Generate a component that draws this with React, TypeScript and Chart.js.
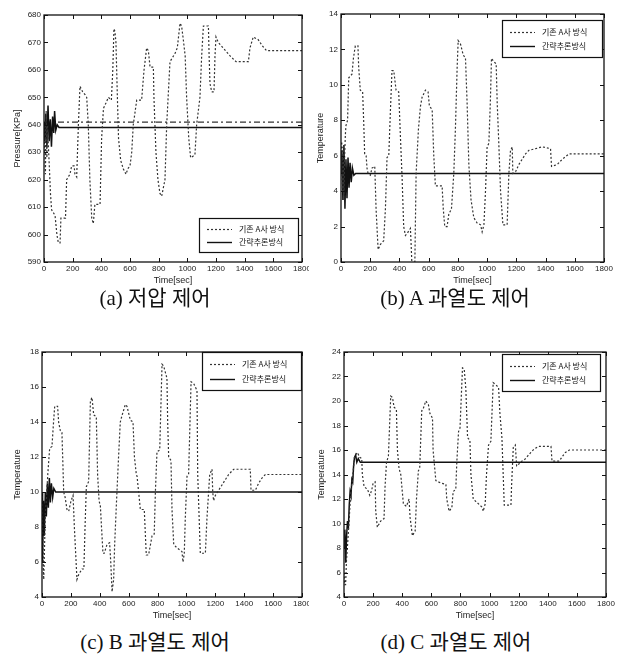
import React, { useEffect, useRef } from "react";
import { Chart, registerables } from "chart.js";
Chart.register(...registerables);

type Pt = [number, number];

const X_TICKS = [0, 200, 400, 600, 800, 1000, 1200, 1400, 1600, 1800];
const LEGEND_OLD = "기존 A사 방식";
const LEGEND_NEW = "간략추론방식";
const X_TITLE = "Time[sec]";

// (a) 저압 제어
const A_OLD: Pt[] = [[0,630],[5,640],[10,622],[15,645],[20,628],[25,640],[30,633],[37,625],[45,615],[53,609],[65,608],[77,607],[90,600],[100,597],[112,597],[118,606],[150,606],[158,620],[181,622],[193,625],[210,625],[216,622],[228,621],[240,640],[251,654],[270,652],[286,651],[298,650],[309,640],[320,620],[333,606],[344,604],[355,611],[391,611],[402,635],[415,646],[433,648],[449,650],[470,649],[480,660],[488,675],[495,674],[502,670],[512,650],[520,635],[535,627],[553,624],[572,622],[585,624],[600,625],[612,630],[623,640],[647,649],[681,649],[698,660],[716,668],[728,667],[740,661],[763,661],[767,650],[781,630],[795,620],[809,615],[821,614],[844,620],[856,640],[879,663],[914,666],[930,668],[949,677],[960,676],[972,671],[985,665],[995,650],[1010,635],[1023,628],[1053,629],[1065,640],[1088,650],[1100,665],[1112,676],[1147,676],[1152,665],[1158,655],[1170,652],[1186,652],[1193,665],[1200,672],[1216,670],[1250,668],[1300,665],[1340,663],[1426,663],[1437,668],[1460,672],[1495,671],[1520,669],[1553,667],[1800,667]];
const A_NEW: Pt[] = [[0,641],[6,634],[12,644],[20,632],[28,647],[36,634],[44,642],[52,632],[60,643],[68,637],[74,645],[82,638],[92,640],[105,639],[1800,639]];
const A_SET: Pt[] = [[0,641],[1800,641]];
const A_Y_TICKS = [590, 600, 610, 620, 630, 640, 650, 660, 670, 680];

// (b) A 과열도 제어
const B_OLD: Pt[] = [[0,5.5],[5,6.8],[10,4],[15,6.5],[20,3.5],[25,6],[30,7.2],[34,7.7],[45,8],[53,10.4],[75,10.6],[85,11.5],[98,12.2],[116,12.2],[121,11],[132,9.7],[148,9.6],[155,8],[162,6.1],[172,6],[178,5.3],[185,5],[201,4.9],[212,5.3],[231,5.4],[240,3],[254,0.7],[270,1],[292,1.2],[304,3],[315,5.9],[327,6],[338,8.5],[349,10.8],[361,10.8],[377,9.7],[395,9.6],[407,7],[418,4.8],[429,2],[441,1.5],[452,1.6],[475,1.9],[480,1],[486,-0.3],[505,-0.3],[514,5],[530,7.5],[544,8.8],[555,9.3],[578,9.7],[596,9.6],[605,8.8],[624,8.6],[635,6],[646,4.3],[692,4.3],[700,3],[710,2],[726,2],[738,2.7],[756,3],[772,5],[783,7.5],[795,11],[802,12.5],[818,12.3],[836,11.7],[852,11.5],[863,9],[875,5.5],[890,3.5],[909,2.5],[932,2.2],[955,2.1],[966,1.7],[978,2.1],[989,4],[1000,6.5],[1012,6.7],[1022,9],[1030,11.5],[1046,11.3],[1062,11.2],[1069,9],[1080,6.7],[1092,4],[1108,2.1],[1137,2.1],[1149,5],[1160,6.3],[1172,6.5],[1176,5],[1195,5.1],[1217,5.5],[1240,5.8],[1263,6.1],[1286,6.3],[1332,6.4],[1377,6.5],[1434,6.4],[1441,5.4],[1480,5.5],[1514,5.8],[1560,6.1],[1800,6.1]];
const B_NEW: Pt[] = [[0,5],[6,6.3],[13,3.5],[20,6.6],[27,3],[34,5.8],[41,3.6],[48,5.9],[55,4.2],[62,5.6],[70,4.5],[78,5.3],[88,4.9],[100,5],[1800,5]];
const B_Y_TICKS = [0, 2, 4, 6, 8, 10, 12, 14];

// (c) B 과열도 제어
const C_OLD: Pt[] = [[0,10],[8,6],[12,5],[18,7],[23,8.8],[30,9.5],[40,11],[53,12.5],[69,12.6],[80,14],[88,14.9],[108,14.9],[115,14],[127,13.5],[138,13.4],[145,11.5],[150,10],[160,9.7],[173,9],[185,8.9],[201,9.5],[215,9.8],[224,8],[242,5],[255,5.3],[277,5.6],[290,5.6],[298,8],[307,10.3],[323,10.6],[335,15.2],[346,15.4],[358,14.4],[376,14.3],[385,11],[395,9.5],[404,9.2],[422,6.5],[431,6.5],[450,7],[468,7.1],[476,6],[485,4.3],[496,5],[503,7],[515,9.3],[530,12],[542,14],[555,14.4],[577,15],[588,14.9],[612,14.1],[630,14],[640,12],[653,11],[658,10.9],[669,10],[681,9],[708,9],[722,6.4],[738,6.4],[762,7.5],[777,7.6],[785,10],[796,12.3],[815,12.4],[831,17.3],[842,17.2],[865,16.5],[870,14],[877,12],[893,11.8],[900,9],[912,7],[935,6.8],[969,6.6],[976,6],[985,6.5],[992,8.5],[1004,10.9],[1015,11],[1032,16.3],[1050,16.2],[1073,15.8],[1078,11],[1096,6.5],[1131,6.5],[1142,8.5],[1161,11],[1177,11.3],[1182,10],[1188,9.5],[1200,9.8],[1223,10.1],[1246,10.4],[1269,10.7],[1292,11],[1327,11.3],[1442,11.3],[1447,10.1],[1477,10.1],[1500,10.5],[1523,10.8],[1546,11],[1800,11]];
const C_NEW: Pt[] = [[0,10],[4,6],[10,9.5],[16,7.5],[23,10],[30,8.6],[37,10.5],[44,9.1],[51,10.8],[58,9.4],[65,10.5],[74,9.7],[82,10.2],[95,10],[1800,10]];
const C_Y_TICKS = [4, 6, 8, 10, 12, 14, 16, 18];

// (d) C 과열도 제어
const D_OLD: Pt[] = [[0,6],[5,5],[11,5],[17,7],[23,8],[34,10],[46,12.5],[57,13.5],[73,15.5],[92,15.8],[108,15.4],[122,15.3],[126,14],[138,13],[161,12.8],[177,12.3],[190,12.7],[200,13.3],[214,13.4],[218,11],[229,9.7],[252,10.2],[275,10.4],[282,13],[292,15],[305,15.5],[321,20.4],[333,20.3],[344,19.5],[360,19.3],[367,16],[378,14.5],[390,14],[408,11.6],[429,11.4],[447,12],[454,10.5],[470,9],[489,9.4],[498,12],[511,14.3],[520,14.5],[534,19.2],[545,19.4],[562,20],[580,19.7],[590,19],[608,18.6],[612,16],[631,13.5],[665,13.3],[700,13.2],[706,12],[722,11],[741,11.3],[750,12.6],[768,12.8],[775,15],[787,17.5],[797,17.8],[814,22.7],[826,22.6],[837,21],[849,17],[865,16.8],[872,14],[888,12],[906,11.8],[933,11.5],[952,11.3],[956,11],[970,11.6],[979,14],[993,16.4],[1009,16.7],[1025,21.5],[1045,21.3],[1062,21.1],[1071,19],[1085,17],[1101,11.5],[1147,11.5],[1151,13],[1163,16.2],[1177,16.4],[1186,14.7],[1193,14.7],[1209,15],[1239,15.2],[1261,15.5],[1284,15.8],[1307,16.1],[1342,16.3],[1422,16.3],[1429,15.1],[1479,15.1],[1502,15.5],[1521,15.8],[1548,16],[1800,16]];
const D_NEW: Pt[] = [[0,8],[6,9.5],[12,6.8],[18,9],[24,10.2],[30,9.6],[36,11.5],[42,12.6],[48,12.3],[54,13.6],[60,13.4],[66,14.7],[72,15.4],[80,15.6],[88,15],[98,15.3],[112,15],[1800,15]];
const D_Y_TICKS = [4, 6, 8, 10, 12, 14, 16, 18, 20, 22, 24];

type Area = { l: number; r: number; t: number; b: number };
type LegendSpec = { corner: "tr" | "br"; inX: number; inY: number; w: number; h: number };

interface PanelProps {
  left: number;
  top: number;
  w: number;
  h: number;
  area: Area;
  yTicks: number[];
  yTitle: string;
  yTitlePad: number;
  oldData: Pt[];
  newData: Pt[];
  setData?: Pt[];
  legend: LegendSpec;
}

const TICK_FONT = { family: "'Liberation Sans', Arial, sans-serif", size: 8 };

function Panel(p: PanelProps) {
  const ref = useRef<HTMLCanvasElement | null>(null);
  useEffect(() => {
    if (!ref.current) return;
    const yMin = p.yTicks[0];
    const yMax = p.yTicks[p.yTicks.length - 1];
    const framePlugin = {
      id: "frameLegend",
      afterDatasetsDraw(chart: any) {
        const { ctx, chartArea } = chart;
        const { left, right, top, bottom } = chartArea;
        const xs = chart.scales.x;
        const ys = chart.scales.y;
        ctx.save();
        ctx.strokeStyle = "#111";
        ctx.lineWidth = 1.3;
        ctx.strokeRect(left, top, right - left, bottom - top);
        ctx.lineWidth = 1;
        ctx.beginPath();
        X_TICKS.forEach((v) => {
          const px = Math.round(xs.getPixelForValue(v)) + 0.5;
          ctx.moveTo(px, bottom);
          ctx.lineTo(px, bottom - 4);
          ctx.moveTo(px, top);
          ctx.lineTo(px, top + 4);
        });
        p.yTicks.forEach((v) => {
          const py = Math.round(ys.getPixelForValue(v)) + 0.5;
          ctx.moveTo(left, py);
          ctx.lineTo(left + 4, py);
          ctx.moveTo(right, py);
          ctx.lineTo(right - 4, py);
        });
        ctx.stroke();
        // legend box
        const L = p.legend;
        const bx = right - L.inX - L.w;
        const by = L.corner === "tr" ? top + L.inY : bottom - L.inY - L.h;
        ctx.fillStyle = "#fff";
        ctx.fillRect(bx, by, L.w, L.h);
        ctx.strokeStyle = "#111";
        ctx.lineWidth = 1.2;
        ctx.strokeRect(Math.round(bx) + 0.5, Math.round(by) + 0.5, L.w, L.h);
        const r1 = by + Math.round(L.h * 0.32);
        const r2 = by + Math.round(L.h * 0.7);
        ctx.lineWidth = 1.2;
        ctx.strokeStyle = "#333";
        ctx.setLineDash([2, 2]);
        ctx.beginPath();
        ctx.moveTo(bx + 8, r1 + 0.5);
        ctx.lineTo(bx + 33, r1 + 0.5);
        ctx.stroke();
        ctx.setLineDash([]);
        ctx.strokeStyle = "#111";
        ctx.lineWidth = 1.4;
        ctx.beginPath();
        ctx.moveTo(bx + 8, r2 + 0.5);
        ctx.lineTo(bx + 33, r2 + 0.5);
        ctx.stroke();
        ctx.fillStyle = "#111";
        ctx.font = "8px 'Noto Sans CJK KR', sans-serif";
        ctx.textBaseline = "middle";
        ctx.textAlign = "left";
        ctx.fillText(LEGEND_OLD, bx + 40, r1);
        ctx.fillText(LEGEND_NEW, bx + 40, r2);
        ctx.restore();
      },
    };
    const datasets: any[] = [
      {
        label: LEGEND_OLD,
        data: p.oldData.map(([x, y]) => ({ x, y })),
        borderColor: "#333",
        borderWidth: 1.2,
        borderDash: [2, 2],
        pointRadius: 0,
        tension: 0,
      },
      {
        label: LEGEND_NEW,
        data: p.newData.map(([x, y]) => ({ x, y })),
        borderColor: "#111",
        borderWidth: 1.5,
        pointRadius: 0,
        tension: 0,
      },
    ];
    if (p.setData) {
      datasets.push({
        label: "setpoint",
        data: p.setData.map(([x, y]) => ({ x, y })),
        borderColor: "#333",
        borderWidth: 1.2,
        borderDash: [6, 3, 2, 3],
        pointRadius: 0,
        tension: 0,
      });
    }
    const chart = new Chart(ref.current, {
      type: "line",
      data: { datasets },
      plugins: [framePlugin],
      options: {
        animation: false,
        responsive: false,
        maintainAspectRatio: false,
        layout: {
          padding: { left: 0, top: p.area.t, right: p.w - p.area.r, bottom: 0 },
        },
        plugins: { legend: { display: false }, tooltip: { enabled: false } },
        scales: {
          x: {
            type: "linear",
            min: 0,
            max: 1800,
            afterBuildTicks: (s: any) => {
              s.ticks = X_TICKS.map((v) => ({ value: v }));
            },
            afterFit: (s: any) => {
              s.height = p.h - p.area.b;
              s.paddingLeft = 0;
              s.paddingRight = 0;
            },
            grid: { display: false, drawTicks: false },
            border: { display: false },
            ticks: { font: TICK_FONT, color: "#222", padding: 2, maxRotation: 0, autoSkip: false, callback: (v: any) => String(v) },
            title: { display: true, text: X_TITLE, font: { ...TICK_FONT, size: 9 }, color: "#222", padding: { top: 0, bottom: 4 } },
          },
          y: {
            type: "linear",
            min: yMin,
            max: yMax,
            afterBuildTicks: (s: any) => {
              s.ticks = p.yTicks.map((v) => ({ value: v }));
            },
            afterFit: (s: any) => {
              s.width = p.area.l;
              s.paddingTop = 0;
              s.paddingBottom = 0;
            },
            grid: { display: false, drawTicks: false },
            border: { display: false },
            ticks: { font: TICK_FONT, color: "#222", padding: 3, autoSkip: false, callback: (v: any) => String(v) },
            title: { display: true, text: p.yTitle, font: { ...TICK_FONT, size: 9 }, color: "#222", padding: { top: p.yTitlePad, bottom: 0 } },
          },
        },
      } as any,
    });
    return () => chart.destroy();
  }, []);
  return (
    <canvas
      ref={ref}
      width={p.w}
      height={p.h}
      style={{ position: "absolute", left: p.left, top: p.top, width: p.w, height: p.h }}
    />
  );
}

const CAPTIONS = ["(a) 저압 제어", "(b) A 과열도 제어", "(c) B 과열도 제어", "(d) C 과열도 제어"];

const captionStyle = (cx: number, cy: number): React.CSSProperties => ({
  position: "absolute",
  left: cx - 120,
  top: cy - 13,
  width: 240,
  textAlign: "center",
  fontFamily: "'Liberation Serif', 'Noto Sans CJK KR', serif",
  fontSize: 21,
  lineHeight: "26px",
  color: "#111",
  whiteSpace: "nowrap",
});

export default function App() {
  return (
    <div style={{ position: "absolute", left: 0, top: 0, width: 618, height: 661, background: "#fff", overflow: "hidden" }}>
      <Panel left={0} top={0} w={309} h={290} area={{ l: 44, r: 302, t: 15, b: 262 }} yTicks={A_Y_TICKS} yTitle="Pressure[KPa]" yTitlePad={12}
        oldData={A_OLD} newData={A_NEW} setData={A_SET} legend={{ corner: "br", inX: 4, inY: 10, w: 99, h: 34 }} />
      <Panel left={309} top={0} w={309} h={290} area={{ l: 32, r: 295, t: 14, b: 262 }} yTicks={B_Y_TICKS} yTitle="Temperature" yTitlePad={6}
        oldData={B_OLD} newData={B_NEW} legend={{ corner: "tr", inX: 2, inY: 6, w: 100, h: 37 }} />
      <Panel left={0} top={335} w={309} h={290} area={{ l: 42, r: 302, t: 17, b: 262 }} yTicks={C_Y_TICKS} yTitle="Temperature" yTitlePad={12}
        oldData={C_OLD} newData={C_NEW} legend={{ corner: "tr", inX: 1, inY: 0, w: 99, h: 38 }} />
      <Panel left={309} top={335} w={309} h={290} area={{ l: 35, r: 297, t: 17, b: 262 }} yTicks={D_Y_TICKS} yTitle="Temperature" yTitlePad={7}
        oldData={D_OLD} newData={D_NEW} legend={{ corner: "tr", inX: 6, inY: 2, w: 98, h: 37 }} />
      <div style={captionStyle(155, 298)}>{CAPTIONS[0]}</div>
      <div style={captionStyle(455, 298)}>{CAPTIONS[1]}</div>
      <div style={captionStyle(155, 642)}>{CAPTIONS[2]}</div>
      <div style={captionStyle(456, 642)}>{CAPTIONS[3]}</div>
    </div>
  );
}
